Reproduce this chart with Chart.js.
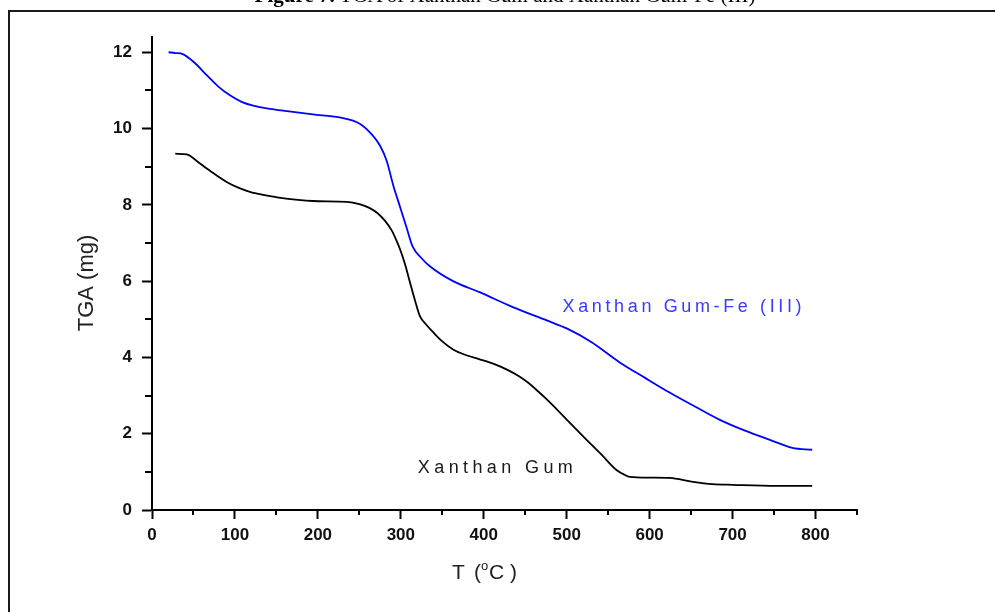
<!DOCTYPE html>
<html><head><meta charset="utf-8">
<script src="https://cdn.jsdelivr.net/npm/chart.js@4.4.1/dist/chart.umd.min.js"></script>
<style>
html,body{margin:0;padding:0;background:#fff;width:995px;height:612px;overflow:hidden;}
#wrap{position:absolute;left:0;top:0;width:995px;height:612px;}
#frame{position:absolute;left:8px;top:10px;width:995px;height:620px;border-left:2px solid #1a1a1a;border-top:2px solid #1a1a1a;}
#cap{position:absolute;left:0;width:1010px;top:-17px;line-height:24px;text-align:center;font-size:21px;font-family:"Liberation Serif","Times New Roman",serif;color:#000;white-space:nowrap;}
</style></head>
<body>
<div id="wrap"><canvas id="c" width="995" height="612"></canvas></div>
<div id="frame"></div>
<div id="cap"><b>Figure 7.</b> TGA of Xanthan Gum and Xanthan Gum-Fe (III)</div>
<script>
// ---- data ----
const feT = [20, 28, 37, 50, 66, 80, 94, 108, 122, 140, 158, 194, 226, 251, 266, 275, 283, 291, 299, 307, 314, 325, 335, 363, 395, 435, 476, 500, 530, 564, 594, 624, 654, 684, 715, 745, 772, 796];
const feW = [12.0, 11.98, 11.95, 11.75, 11.4, 11.1, 10.87, 10.7, 10.6, 10.52, 10.47, 10.37, 10.29, 10.12, 9.82, 9.55, 9.15, 8.5, 7.95, 7.4, 6.92, 6.6, 6.39, 6.0, 5.71, 5.32, 4.97, 4.76, 4.4, 3.87, 3.47, 3.08, 2.72, 2.37, 2.08, 1.84, 1.63, 1.58];
const xgT = [28, 42, 54, 66, 78, 90, 104, 118, 134, 150, 194, 235, 250, 262, 272, 281, 289, 294, 299, 305, 311, 317, 323, 331, 339, 350, 363, 380, 395, 412, 428, 443, 452, 464, 476, 483, 500, 524, 542, 560, 570, 576, 600, 624, 652, 676, 700, 753, 796];
const xgW = [9.34, 9.32, 9.15, 8.95, 8.77, 8.6, 8.45, 8.34, 8.26, 8.2, 8.1, 8.08, 8.02, 7.92, 7.78, 7.58, 7.33, 7.1, 6.84, 6.45, 5.97, 5.5, 5.08, 4.85, 4.66, 4.42, 4.21, 4.05, 3.95, 3.83, 3.68, 3.5, 3.36, 3.14, 2.9, 2.75, 2.37, 1.84, 1.45, 1.05, 0.92, 0.87, 0.85, 0.84, 0.74, 0.68, 0.66, 0.63, 0.63];
const xTickLabels = ['0','100','200','300','400','500','600','700','800'];
const yTickLabels = ['0','2','4','6','8','10','12'];
const seriesNames = ['Xanthan Gum-Fe (III)', 'Xanthan Gum'];
const yTitle = 'TGA (mg)';

const FONT = "'Liberation Sans', Arial, sans-serif";

function drawSpaced(ctx, text, x, y, targetW) {
  const chars = [...text];
  let nat = 0; chars.forEach(c => nat += ctx.measureText(c).width);
  const sp = chars.length > 1 ? (targetW - nat) / (chars.length - 1) : 0;
  chars.forEach(c => { ctx.fillText(c, x, y); x += ctx.measureText(c).width + sp; });
}

const extras = {
  id: 'extras',
  afterDraw(chart) {
    const ctx = chart.ctx, xs = chart.scales.x, ys = chart.scales.y;
    ctx.save();
    // minor ticks
    ctx.strokeStyle = '#000'; ctx.lineWidth = 2;
    ctx.beginPath();
    for (let v = 50; v <= 850; v += 100) {
      const p = Math.round(xs.getPixelForValue(v));
      ctx.moveTo(p, ys.bottom); ctx.lineTo(p, ys.bottom + 5);
    }
    for (let v = 1; v <= 11; v += 2) {
      const p = Math.round(ys.getPixelForValue(v));
      ctx.moveTo(xs.left - 7, p); ctx.lineTo(xs.left, p);
    }
    ctx.stroke();
    // y title
    ctx.fillStyle = '#222';
    ctx.font = '22px ' + FONT;
    ctx.textAlign = 'center'; ctx.textBaseline = 'middle';
    ctx.save(); ctx.translate(87, 283); ctx.rotate(-Math.PI / 2);
    ctx.fillText(yTitle, 0, 0); ctx.restore();
    // x title  T (°C) with superscript o
    ctx.textAlign = 'left'; ctx.textBaseline = 'alphabetic';
    ctx.font = '21px ' + FONT;
    const base = 579;
    ctx.fillText('T', 452, base);
    ctx.fillText('(', 474, base);
    ctx.font = '13px ' + FONT;
    ctx.fillText('o', 481, base - 9);
    ctx.font = '21px ' + FONT;
    ctx.fillText('C', 489, base);
    ctx.fillText(')', 510, base);
    // series labels
    ctx.font = '18px ' + FONT;
    ctx.fillStyle = '#3a3aff';
    drawSpaced(ctx, seriesNames[0], xs.getPixelForValue(495), ys.getPixelForValue(5.18), 239);
    ctx.fillStyle = '#1a1a1a';
    drawSpaced(ctx, seriesNames[1], xs.getPixelForValue(320.5), ys.getPixelForValue(0.97), 155);
    ctx.restore();
  }
};

new Chart(document.getElementById('c'), {
  type: 'scatter',
  data: {
    datasets: [
      { label: seriesNames[0], data: feT.map((t, i) => ({ x: t, y: feW[i] })), borderColor: '#0000ff', borderWidth: 1.8, showLine: true, pointRadius: 0, cubicInterpolationMode: 'monotone', fill: false },
      { label: seriesNames[1], data: xgT.map((t, i) => ({ x: t, y: xgW[i] })), borderColor: '#000000', borderWidth: 1.8, showLine: true, pointRadius: 0, cubicInterpolationMode: 'monotone', fill: false }
    ]
  },
  options: {
    responsive: false, animation: false, devicePixelRatio: 1,
    layout: { padding: { left: 0, right: 138, top: 37, bottom: 0 } },
    plugins: { legend: { display: false }, tooltip: { enabled: false } },
    scales: {
      x: {
        type: 'linear', min: 0, max: 850,
        afterFit(s) { s.height = 102; },
        border: { color: '#000', width: 2 },
        grid: { drawOnChartArea: false, drawTicks: true, tickLength: 9, tickWidth: 2, tickColor: '#000' },
        ticks: { stepSize: 100, includeBounds: false, maxRotation: 0, padding: 6, color: '#111',
          font: { family: FONT, size: 17, weight: 'bold' },
          callback: v => xTickLabels[Math.round(v / 100)] }
      },
      y: {
        type: 'linear', min: 0, max: 12.4,
        afterFit(s) { s.width = 152; },
        border: { color: '#000', width: 2 },
        grid: { drawOnChartArea: false, drawTicks: true, tickLength: 10, tickWidth: 2, tickColor: '#000' },
        ticks: { stepSize: 2, includeBounds: false, padding: 10, color: '#111',
          font: { family: FONT, size: 17, weight: 'bold' },
          callback: v => yTickLabels[Math.round(v / 2)] }
      }
    }
  },
  plugins: [extras]
});
</script>
</body></html>
